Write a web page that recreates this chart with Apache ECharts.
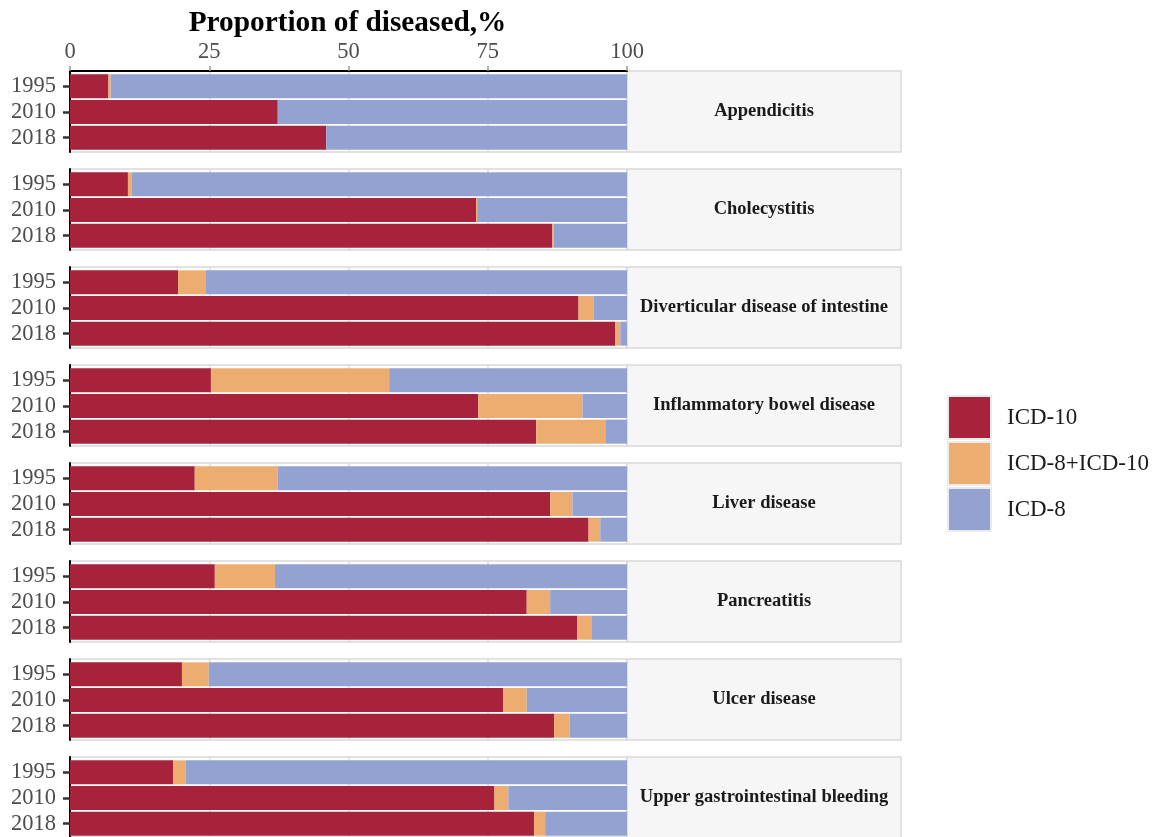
<!DOCTYPE html>
<html><head><meta charset="utf-8">
<script src="https://cdn.jsdelivr.net/npm/echarts@6/dist/echarts.min.js"></script>
<style>html,body{margin:0;padding:0;background:#fff}#c{width:1159px;height:837px}</style>
</head><body><div id="c"></div>
<script>
const diseases = ['Appendicitis','Cholecystitis','Diverticular disease of intestine','Inflammatory bowel disease','Liver disease','Pancreatitis','Ulcer disease','Upper gastrointestinal bleeding'];
const years = ['1995','2010','2018'];
const seriesNames = ['ICD-10','ICD-8+ICD-10','ICD-8'];
const xTicks = [0,25,50,75,100];
const axisTitle = 'Proportion of diseased,%';
// values per disease for 1995, 2010, 2018 (percent)
const icd10 = [
  [6.9,37.3,46.0],[10.4,72.9,86.6],[19.4,91.3,97.9],[25.3,73.3,83.7],
  [22.4,86.2,93.1],[26.0,82.0,91.1],[20.1,77.8,86.9],[18.5,76.2,83.3]];
const icd8icd10 = [
  [0.4,0.0,0.0],[0.7,0.2,0.2],[5.0,2.7,0.9],[32.0,18.7,12.4],
  [14.9,4.0,2.1],[10.8,4.2,2.5],[4.8,4.2,2.8],[2.3,2.5,2.0]];
const icd8 = [
  [92.7,62.7,54.0],[88.9,26.9,13.2],[75.6,6.0,1.2],[42.7,8.0,3.9],
  [62.7,9.8,4.8],[63.2,13.8,6.4],[75.1,18.0,10.3],[79.2,21.3,14.7]];

const colors = ['#A7233B','#EEAD70','#93A2D1'];
const FONT = '"Liberation Serif","Times New Roman",serif';
const L = 70, W = 557, T0 = 71, STEP = 98, H = 81;
const SL = 627, SW = 274;
const seriesData = [icd10, icd8icd10, icd8];

const grid = [], xAxis = [], yAxis = [], series = [], graphic = [];
diseases.forEach((d, i) => {
  const top = T0 + STEP * i;
  // frame grid
  grid.push({left: L, top: top, width: W, height: H, show: true, backgroundColor: '#fff', borderColor: '#D9D9D9', borderWidth: 1.5});
  xAxis.push({
    gridIndex: 2*i, type: 'value', min: 0, max: 100, interval: 25, position: 'top',
    axisLine: {show: i === 0, onZero: false, lineStyle: {color: '#000', width: 2}},
    axisTick: {show: i === 0, length: 5, lineStyle: {color: '#999', width: 1.5}},
    axisLabel: {show: i === 0, fontFamily: FONT, fontSize: 22.5, color: '#4D4D4D', margin: 7,
      customValues: xTicks},
    splitLine: {show: true, lineStyle: {color: '#DCDCDC', width: 1.5}}
  });
  yAxis.push({
    gridIndex: 2*i, type: 'value', min: 0, max: 1, position: 'left',
    axisLine: {show: true, onZero: false, lineStyle: {color: '#000', width: 2}},
    axisTick: {show: false}, axisLabel: {show: false}, splitLine: {show: false}
  });
  // data grid
  grid.push({left: L, top: top + 2.5, width: W, height: H - 4});
  xAxis.push({gridIndex: 2*i+1, type: 'value', min: 0, max: 100,
    axisLine: {show: false}, axisTick: {show: false}, axisLabel: {show: false}, splitLine: {show: false}});
  yAxis.push({
    gridIndex: 2*i+1, type: 'category', data: years, inverse: true, position: 'left',
    axisLine: {show: true, onZero: false, lineStyle: {color: '#000', width: 2}},
    axisTick: {show: true, alignWithLabel: true, length: 7, lineStyle: {color: '#333', width: 2.5}},
    axisLabel: {interval: 0, fontFamily: FONT, fontSize: 22.5, color: '#4D4D4D', margin: 14}
  });
  seriesNames.forEach((n, s) => {
    series.push({
      type: 'bar', name: n, stack: 'p' + i, xAxisIndex: 2*i+1, yAxisIndex: 2*i+1,
      data: seriesData[s][i], barWidth: 24, silent: true,
      itemStyle: {color: colors[s]}, emphasis: {disabled: true}
    });
  });
  graphic.push({type: 'rect', shape: {x: SL, y: top, width: SW, height: H},
    style: {fill: '#F6F6F6', stroke: '#D9D9D9', lineWidth: 1.5}, silent: true});
  graphic.push({type: 'text', x: SL + SW/2, y: top + H/2,
    style: {text: d, font: 'bold 18.5px ' + FONT, fill: '#1A1A1A', textAlign: 'center', textVerticalAlign: 'middle'}, silent: true});
});
graphic.push({type: 'text', x: L + W/2 - 1, y: 23.5,
  style: {text: axisTitle, font: 'bold 29.3px ' + FONT, fill: '#000', textAlign: 'center', textVerticalAlign: 'middle'}, silent: true});

const chart = echarts.init(document.getElementById('c'), null, {renderer: 'canvas'});
chart.setOption({
  animation: false,
  color: colors,
  grid, xAxis, yAxis, series, graphic,
  legend: {
    data: seriesNames, orient: 'vertical', left: 947, top: 395, padding: 0,
    itemWidth: 43, itemHeight: 43, itemGap: 1, icon: 'rect', selectedMode: false,
    itemStyle: {borderColor: '#EBEBEB', borderWidth: 2},
    textStyle: {fontFamily: FONT, fontSize: 23, color: '#1A1A1A', padding: [0,0,0,11]}
  }
});
</script></body></html>
